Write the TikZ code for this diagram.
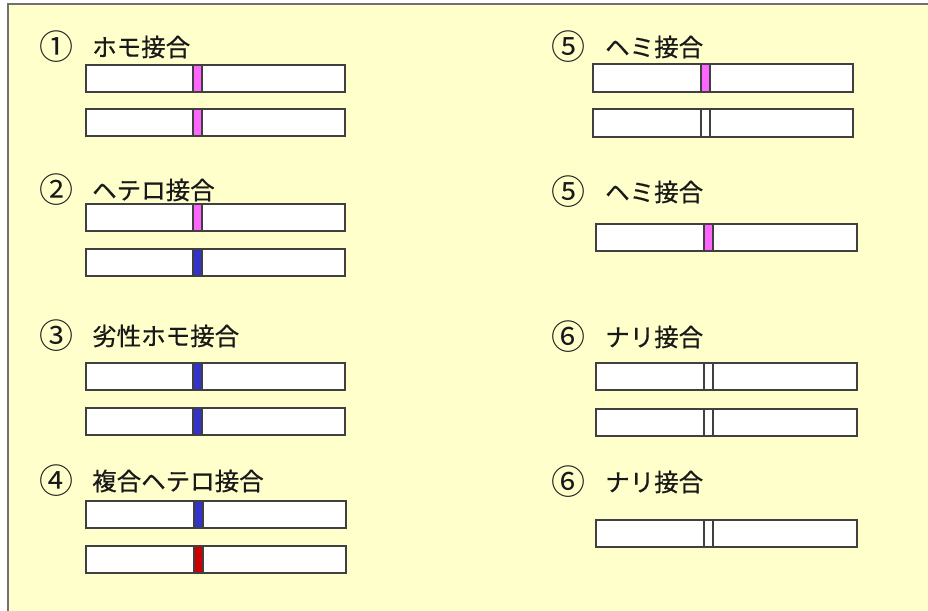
\documentclass[tikz,border=0pt]{standalone}
\usepackage{fontspec}
\setmainfont{Noto Sans CJK JP}
\newfontfamily\jpfont[FakeBold=0.6]{Noto Sans CJK JP}
\definecolor{bgyellow}{HTML}{FFFFCC}
\definecolor{framegray}{HTML}{707070}
\definecolor{mkpink}{HTML}{FF66FF}
\definecolor{mkblue}{HTML}{3333CC}
\definecolor{mkred}{HTML}{CC0000}
\newcommand{\chrom}[6]{%
  \draw[barbox] (#1,#2) rectangle (#3,#4);
  \draw[barbox, fill=#6] (#5,#2) rectangle ++(9,#4-#2);
}
\begin{document}
\begin{tikzpicture}[x=1pt,y=-1pt,
  barbox/.style={draw=black!75, line width=1.3pt, fill=white},
  lbl/.style={font=\jpfont\fontsize{24.5}{28}\selectfont, inner sep=0pt, text=black!90},
  num/.style={font=\fontsize{34}{36}\selectfont, inner sep=0pt, text=black!90}]
\useasboundingbox (0,0) rectangle (928,610);
\begin{scope}
  \clip (0,0) rectangle (928,610);
  \fill[white] (0,0) rectangle (928,610);
  \draw[fill=bgyellow, draw=framegray, line width=2pt] (8,4) rectangle (960,640);
\end{scope}

% left column
\node[num] (n1) at (56,47) {①};
\node[lbl, anchor=west] (t1) at (92,47) {ホモ接合};
\chrom{86}{65}{345}{92}{193}{mkpink}
\chrom{86}{109}{345}{136}{193}{mkpink}

\node[num] (n2) at (56,190) {②};
\node[lbl, anchor=west] (t2) at (92,190) {ヘテロ接合};
\chrom{86}{204}{345}{231}{193}{mkpink}
\chrom{86}{249}{345}{276}{193}{mkblue}

\node[num] (n3) at (56,336) {③};
\node[lbl, anchor=west] (t3) at (92,336) {劣性ホモ接合};
\chrom{86}{363}{345}{390}{193}{mkblue}
\chrom{86}{408}{345}{435}{193}{mkblue}

\node[num] (n4) at (56,481) {④};
\node[lbl, anchor=west] (t4) at (92,481) {複合ヘテロ接合};
\chrom{86}{501}{346}{528}{194}{mkblue}
\chrom{86}{546}{346}{573}{194}{mkred}

% right column
\node[num] (n5a) at (568,47) {⑤};
\node[lbl, anchor=west] (t5a) at (605,47) {ヘミ接合};
\chrom{593}{64}{853}{92}{701}{mkpink}
\chrom{593}{109}{853}{137}{701}{white}

\node[num] (n5b) at (568,192) {⑤};
\node[lbl, anchor=west] (t5b) at (605,192) {ヘミ接合};
\chrom{596}{224}{857}{251}{704}{mkpink}

\node[num] (n6a) at (568,337) {⑥};
\node[lbl, anchor=west] (t6a) at (605,337) {ナリ接合};
\chrom{596}{363}{857}{390}{704}{white}
\chrom{596}{409}{857}{436}{704}{white}

\node[num] (n6b) at (568,482) {⑥};
\node[lbl, anchor=west] (t6b) at (605,482) {ナリ接合};
\chrom{596}{520}{857}{547}{704}{white}
\end{tikzpicture}
\end{document}
